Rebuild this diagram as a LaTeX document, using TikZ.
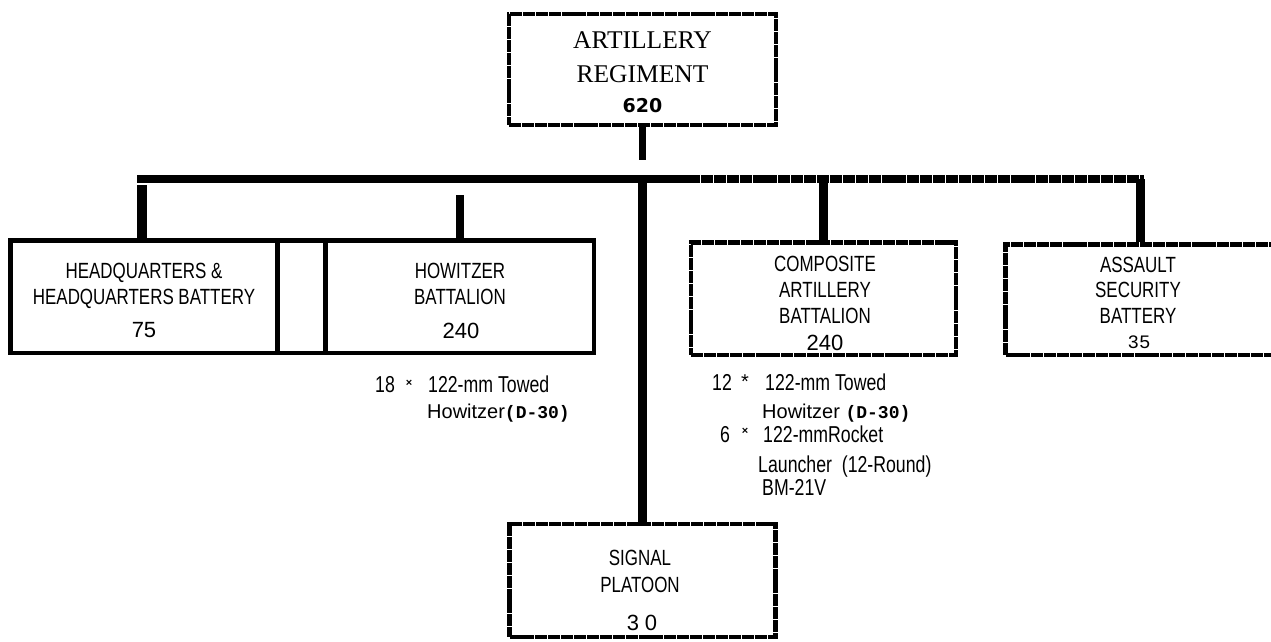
\documentclass[tikz,border=0pt]{standalone}
\usepackage{fontspec}
\newfontfamily\condf[FakeStretch=0.77]{Liberation Sans}
\newfontfamily\arialf{Liberation Sans}
\newfontfamily\serff{Liberation Serif}
\newfontfamily\monof{Liberation Mono}
\newfontfamily\dejaf{DejaVu Sans}
\begin{document}
\begin{tikzpicture}[x=1pt,y=-1pt,
  box/.style={draw, line width=4.5pt, inner sep=0pt},
  scan/.style={dash pattern=on 12pt off 0.9pt},
  conn/.style={line width=8.5pt},
  lbl/.style={inner sep=0pt, anchor=base, font=\condf\fontsize{22}{26}\selectfont},
  num/.style={inner sep=0pt, anchor=base, font=\arialf\fontsize{22}{26}\selectfont},
  note/.style={inner sep=0pt, anchor=base west, font=\condf\fontsize{23}{27}\selectfont},
  xmark/.style={inner sep=0pt, font=\arialf\bfseries\fontsize{11}{13}\selectfont},
  serif/.style={inner sep=0pt, anchor=base, font=\serff\fontsize{25.5}{30}\selectfont},
]
\useasboundingbox (0,0) rectangle (1271,641);
% boxes
\node[box, scan, minimum width=267pt, minimum height=111pt] (reg) at (642.5,69.5) {};
\node[box, minimum width=267pt, minimum height=112.5pt] (hq) at (144,296.75) {};
\node[box, minimum width=48pt, minimum height=112.5pt] (mid) at (301.5,296.75) {};
\node[box, minimum width=268.5pt, minimum height=112.5pt] (how) at (459.75,296.75) {};
\node[box, scan, minimum width=265pt, minimum height=112.5pt] (comp) at (823.5,298.75) {};
\node[box, scan, minimum width=269.5pt, minimum height=110.5pt] (asl) at (1140.25,299.75) {};
\node[box, scan, minimum width=266pt, minimum height=113pt] (sig) at (642.5,580.5) {};
% connectors
\coordinate (mL) at (137,179);
\coordinate (mM) at (688,179);
\coordinate (mR) at (1144,179);
\coordinate (stemEnd) at (642.5,160);
\coordinate (sigJ) at (642.5,179);
\coordinate (hqTop) at (142,185);
\coordinate (howTop) at (459.75,195);
\draw[conn] (mL) -- (mM);
\draw[conn, scan] (mM) -- (mR);
\draw[conn, line width=7.5pt] (reg.south) -- (stemEnd);
\draw[conn, line width=10pt] (hqTop) -- (hqTop |- hq.north);
\draw[conn] (howTop) -- (how.north);
\draw[conn] (sigJ) -- (sig.north);
\draw[conn] (comp.north |- mM) -- (comp.north);
\draw[conn] (asl.north |- mM) -- (asl.north);
% top box text
\node[serif] (regA) at (642.5,48) {ARTILLERY};
\node[serif] (regB) at (642.5,82) {REGIMENT};
\node[inner sep=0pt, anchor=base, font=\dejaf\bfseries\fontsize{19}{23}\selectfont] (regN) at (642.5,112) {620};
% HQ
\node[lbl] (hqA) at (144,278) {HEADQUARTERS \&};
\node[lbl] (hqB) at (144,304) {HEADQUARTERS BATTERY};
\node[num] (hqN) at (144,337) {75};
% Howitzer
\node[lbl] (howA) at (460,278) {HOWITZER};
\node[lbl] (howB) at (460,304) {BATTALION};
\node[num] (howN) at (461,338) {240};
% Composite
\node[lbl] (compA) at (825,271) {COMPOSITE};
\node[lbl] (compB) at (825,297) {ARTILLERY};
\node[lbl] (compC) at (825,323) {BATTALION};
\node[num] (compN) at (825,350) {240};
% Assault
\node[lbl] (aslA) at (1138,272) {ASSAULT};
\node[lbl] (aslB) at (1138,297) {SECURITY};
\node[lbl] (aslC) at (1138,323) {BATTERY};
\node[inner sep=0pt, anchor=base, font=\monof\fontsize{19}{23}\selectfont] (aslN) at (1139,348) {35};
% Signal
\node[lbl] (sigA) at (640,565) {SIGNAL};
\node[lbl] (sigB) at (640,592) {PLATOON};
\node[num] (sigN) at (642,630) {3\hspace{6pt}0};
% notes under Howitzer
\node[note] (n1a) at (375,392) {18};
\node[xmark] (n1x) at (409,383) {×};
\node[note] (n1b) at (428,392) {122-mm Towed};
\node[note, font=\arialf\fontsize{20}{24}\selectfont] (n1c) at (427,418) {Howitzer{\monof\bfseries\fontsize{18}{22}\selectfont(D-30)}};
% notes under Composite
\node[note] (n2a) at (712,390) {12};
\node[inner sep=0pt, font=\arialf\fontsize{20}{24}\selectfont] (n2s) at (745,382) {*};
\node[note] (n2b) at (765,390) {122-mm Towed};
\node[note, font=\arialf\fontsize{20}{24}\selectfont] (n2c) at (762,418) {Howitzer {\monof\bfseries\fontsize{18}{22}\selectfont(D-30)}};
\node[note] (n3a) at (720,442) {6};
\node[xmark] (n3x) at (745,431) {×};
\node[note] (n3b) at (763,442) {122-mmRocket};
\node[note] (n3c) at (758,472) {Launcher\ \ (12-Round)};
\node[note] (n3d) at (762,495) {BM-21V};
\end{tikzpicture}
\end{document}
